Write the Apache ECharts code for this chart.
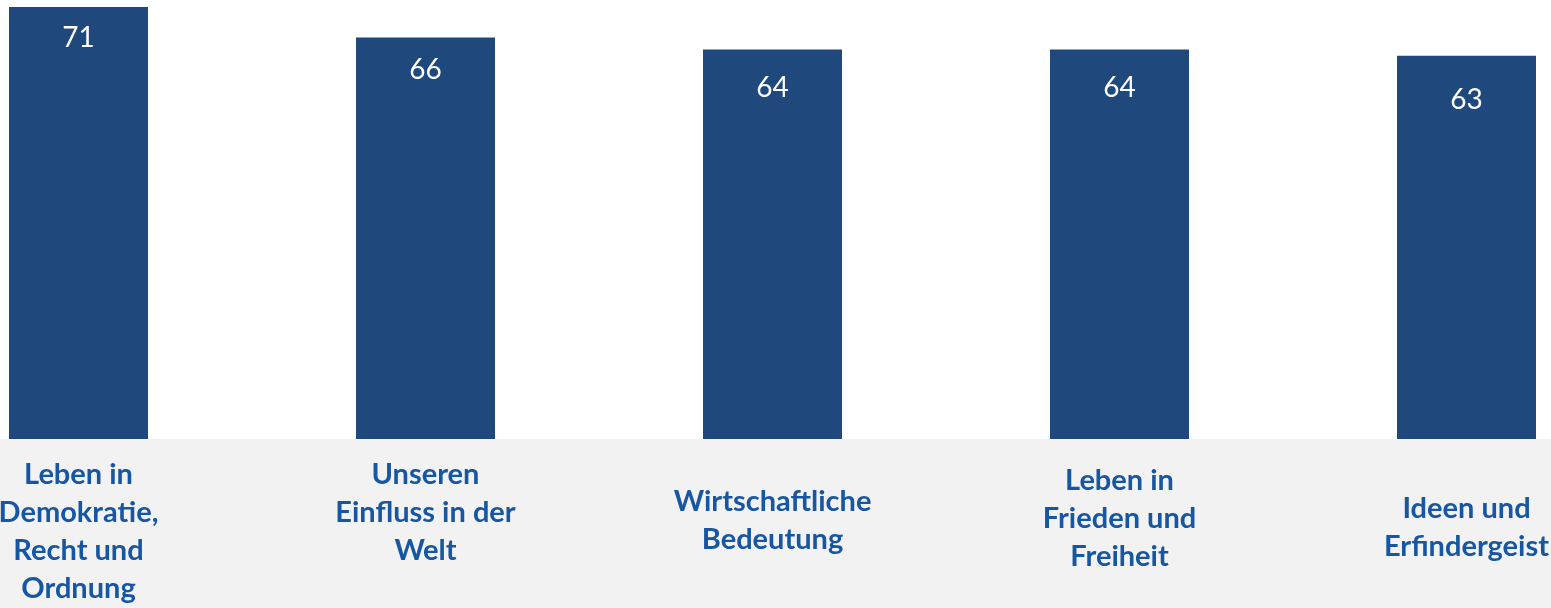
<!DOCTYPE html>
<html>
<head>
<meta charset="utf-8">
<script src="https://cdn.jsdelivr.net/npm/echarts@6/dist/echarts.min.js"></script>
<style>
  html, body { margin: 0; padding: 0; background: #F2F2F2; overflow: hidden; }
  /* the source crops the outer half-categories, so the chart is wider than the page */
  #chart { width: 1735px; height: 608px; margin-left: -95px; }
</style>
</head>
<body>
<div id="chart"></div>
<script>
const categories = [
  'Leben in\nDemokratie,\nRecht und\nOrdnung',
  'Unseren\nEinfluss in der\nWelt',
  'Wirtschaftliche\nBedeutung',
  'Leben in\nFrieden und\nFreiheit',
  'Ideen und\nErfindergeist'
]
const values = [71, 66, 64, 64, 63]

// the source places labels unevenly, so shift each one a bit
const labelShift = [0, 0, 27, 6, 34]
const valueLabelDistance = [17, 19, 24, 24, 30]

const BarColor = '#1F497D'
const LabelColor = '#1656A3'

const chart = echarts.init(document.getElementById('chart'), null, { renderer: 'canvas' })

chart.setOption({
  backgroundColor: '#F2F2F2',
  animation: false,
  grid: {
    left: 0,
    right: 0,
    top: 0,
    bottom: 168,
    show: true,
    backgroundColor: '#FFFFFF',
    borderWidth: 0
  },
  xAxis: {
    type: 'category',
    data: categories.map((c, i) => ({
      value: c,
      textStyle: { padding: [labelShift[i], 0, 0, 0] }
    })),
    axisLine: { show: false },
    axisTick: { show: false },
    axisLabel: {
      interval: 0,
      margin: 17,
      verticalAlign: 'top',
      color: LabelColor,
      fontFamily: 'Lato',
      fontWeight: 'bold',
      fontSize: 29,
      lineHeight: 38
    }
  },
  yAxis: {
    type: 'value',
    min: 0,
    max: 72.15,
    show: false,
    splitLine: { show: false }
  },
  series: [
    {
      type: 'bar',
      data: values.map((v, i) => ({
        value: v,
        label: { distance: valueLabelDistance[i] }
      })),
      barWidth: 139,
      itemStyle: { color: BarColor },
      label: {
        show: true,
        position: 'insideTop',
        color: '#FFFFFF',
        fontFamily: 'Lato',
        fontSize: 28
      }
    }
  ]
})
</script>
</body>
</html>
